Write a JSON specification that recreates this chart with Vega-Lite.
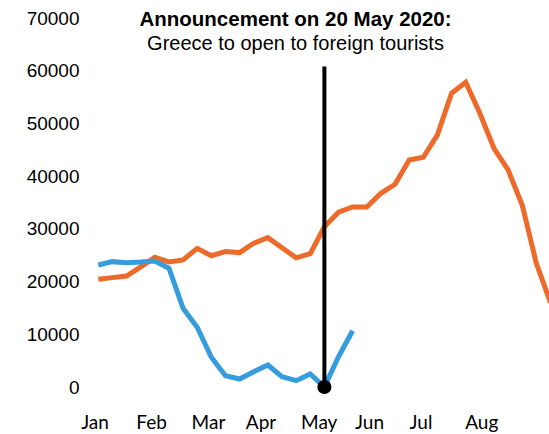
{
  "$schema": "https://vega.github.io/schema/vega-lite/v6.json",
  "autosize": "none",
  "width": 469,
  "height": 369,
  "padding": {"left": 80, "top": 18, "right": 0, "bottom": 47},
  "background": "white",
  "config": {"view": {"stroke": null}},
  "title": {
    "text": "Announcement on 20 May 2020:",
    "subtitle": "Greece to open to foreign tourists",
    "anchor": "middle",
    "frame": "group",
    "dx": -19,
    "offset": -45,
    "font": "Liberation Sans",
    "fontSize": 20.5,
    "fontWeight": "bold",
    "color": "black",
    "subtitleFont": "Liberation Sans",
    "subtitleFontSize": 20,
    "subtitleColor": "black",
    "subtitlePadding": 4
  },
  "datasets": {
    "visits": [
      {"week": 0, "visitors": 20440, "series": "2019"},
      {"week": 1, "visitors": 20750, "series": "2019"},
      {"week": 2, "visitors": 21060, "series": "2019"},
      {"week": 3, "visitors": 22800, "series": "2019"},
      {"week": 4, "visitors": 24600, "series": "2019"},
      {"week": 5, "visitors": 23720, "series": "2019"},
      {"week": 6, "visitors": 24100, "series": "2019"},
      {"week": 7, "visitors": 26300, "series": "2019"},
      {"week": 8, "visitors": 24900, "series": "2019"},
      {"week": 9, "visitors": 25700, "series": "2019"},
      {"week": 10, "visitors": 25500, "series": "2019"},
      {"week": 11, "visitors": 27270, "series": "2019"},
      {"week": 12, "visitors": 28330, "series": "2019"},
      {"week": 13, "visitors": 26430, "series": "2019"},
      {"week": 14, "visitors": 24500, "series": "2019"},
      {"week": 15, "visitors": 25300, "series": "2019"},
      {"week": 16, "visitors": 30400, "series": "2019"},
      {"week": 17, "visitors": 33150, "series": "2019"},
      {"week": 18, "visitors": 34150, "series": "2019"},
      {"week": 19, "visitors": 34150, "series": "2019"},
      {"week": 20, "visitors": 36750, "series": "2019"},
      {"week": 21, "visitors": 38460, "series": "2019"},
      {"week": 22, "visitors": 43070, "series": "2019"},
      {"week": 23, "visitors": 43590, "series": "2019"},
      {"week": 24, "visitors": 47820, "series": "2019"},
      {"week": 25, "visitors": 55730, "series": "2019"},
      {"week": 26, "visitors": 57820, "series": "2019"},
      {"week": 27, "visitors": 51930, "series": "2019"},
      {"week": 28, "visitors": 45290, "series": "2019"},
      {"week": 29, "visitors": 41180, "series": "2019"},
      {"week": 30, "visitors": 34530, "series": "2019"},
      {"week": 31, "visitors": 23470, "series": "2019"},
      {"week": 32, "visitors": 16000, "series": "2019"},
      {"week": 0, "visitors": 23150, "series": "2020"},
      {"week": 1, "visitors": 23780, "series": "2020"},
      {"week": 2, "visitors": 23590, "series": "2020"},
      {"week": 3, "visitors": 23700, "series": "2020"},
      {"week": 4, "visitors": 23900, "series": "2020"},
      {"week": 5, "visitors": 22520, "series": "2020"},
      {"week": 6, "visitors": 14930, "series": "2020"},
      {"week": 7, "visitors": 11330, "series": "2020"},
      {"week": 8, "visitors": 5640, "series": "2020"},
      {"week": 9, "visitors": 2150, "series": "2020"},
      {"week": 10, "visitors": 1520, "series": "2020"},
      {"week": 11, "visitors": 2900, "series": "2020"},
      {"week": 12, "visitors": 4170, "series": "2020"},
      {"week": 13, "visitors": 1950, "series": "2020"},
      {"week": 14, "visitors": 1200, "series": "2020"},
      {"week": 15, "visitors": 2470, "series": "2020"},
      {"week": 16, "visitors": 0, "series": "2020"},
      {"week": 17, "visitors": 5750, "series": "2020"},
      {"week": 18, "visitors": 10680, "series": "2020"}
    ],
    "announcement": [
      {"week": 16, "from": 0, "to": 60800}
    ]
  },
  "layer": [
    {
      "data": {"name": "visits"},
      "mark": {"type": "line", "strokeWidth": 5, "strokeJoin": "miter", "strokeCap": "butt"},
      "encoding": {
        "x": {
          "field": "week",
          "type": "quantitative",
          "scale": {"domain": [-1.295, 31.896], "nice": false, "zero": false},
          "axis": {
            "values": [-0.27, 3.73, 7.76, 11.48, 15.6, 19.16, 22.8, 27.1],
            "labelExpr": "datum.value < 1 ? 'Jan' : datum.value < 5 ? 'Feb' : datum.value < 9 ? 'Mar' : datum.value < 13 ? 'Apr' : datum.value < 17 ? 'May' : datum.value < 21 ? 'Jun' : datum.value < 25 ? 'Jul' : 'Aug'",
            "title": null,
            "domain": false,
            "ticks": false,
            "tickSize": 0,
            "grid": false,
            "labelFont": "Lato",
            "labelFontSize": 19,
            "labelColor": "black",
            "labelBaseline": "alphabetic",
            "labelPadding": 41,
            "labelFlush": false,
            "labelOverlap": false
          }
        },
        "y": {
          "field": "visitors",
          "type": "quantitative",
          "scale": {"domain": [0, 70000], "nice": false},
          "axis": {
            "values": [0, 10000, 20000, 30000, 40000, 50000, 60000, 70000],
            "format": "d",
            "title": null,
            "domain": false,
            "ticks": false,
            "tickSize": 0,
            "grid": false,
            "labelFont": "Liberation Sans",
            "labelFontSize": 19,
            "labelColor": "black",
            "labelPadding": 1,
            "labelFlush": false,
            "labelOverlap": false
          }
        },
        "color": {
          "field": "series",
          "type": "nominal",
          "scale": {"domain": ["2020", "2019"], "range": ["#359CDD", "#ED6A2A"]},
          "legend": null
        }
      }
    },
    {
      "data": {"name": "announcement"},
      "mark": {"type": "rule", "color": "black", "strokeWidth": 4},
      "encoding": {
        "x": {"field": "week", "type": "quantitative"},
        "y": {"field": "from", "type": "quantitative"},
        "y2": {"field": "to"}
      }
    },
    {
      "data": {"name": "announcement"},
      "mark": {"type": "point", "filled": true, "color": "black", "opacity": 1, "size": 200},
      "encoding": {
        "x": {"field": "week", "type": "quantitative"},
        "y": {"field": "from", "type": "quantitative"}
      }
    }
  ]
}
